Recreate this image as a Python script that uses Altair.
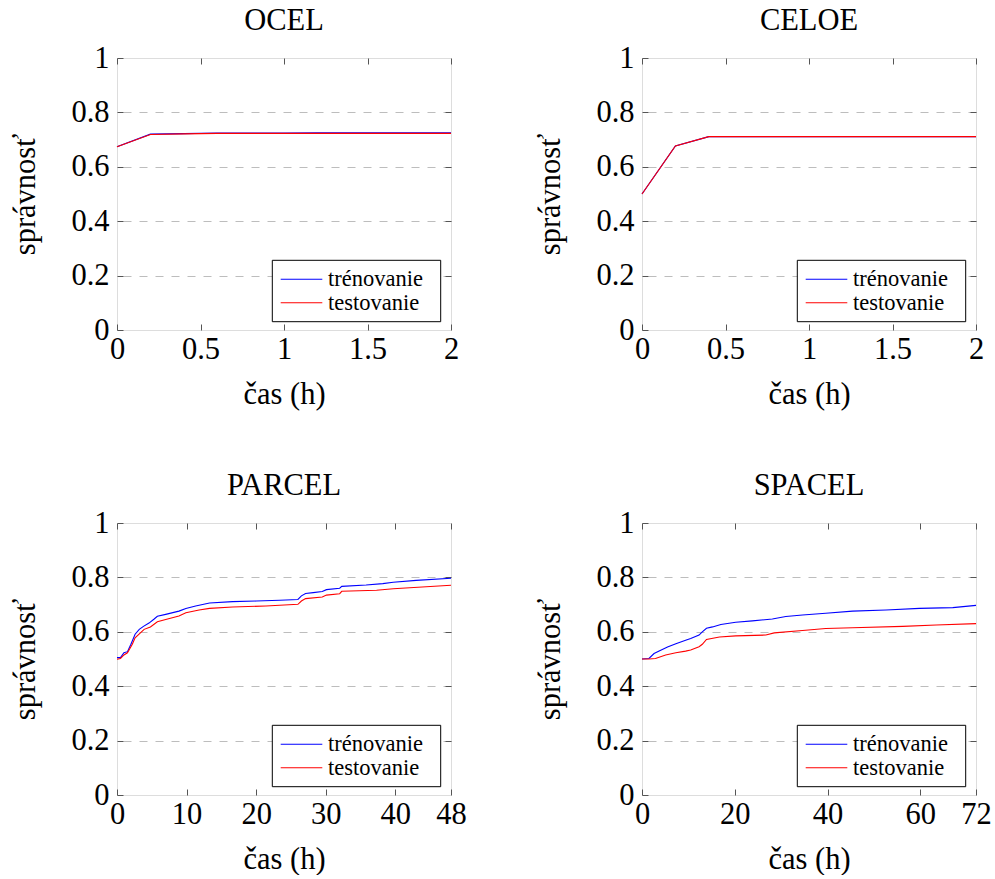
import altair as alt
import pandas as pd

# ---- data: accuracy (správnosť) over training time (hours) ----
SERIES = ["trénovanie", "testovanie"]
COLORS = ["#0000ff", "#ff0000"]

ocel_t = [0.0, 0.2, 0.4, 0.6, 0.8, 1.0, 1.2, 1.4, 1.6, 1.8, 2.0]
ocel_train = [0.674, 0.720, 0.722, 0.724, 0.724, 0.724, 0.725, 0.725, 0.725, 0.725, 0.725]
ocel_test = [0.674, 0.719, 0.721, 0.723, 0.723, 0.723, 0.723, 0.723, 0.723, 0.723, 0.723]

celoe_t = [0.0, 0.2, 0.4, 0.6, 0.8, 1.0, 1.2, 1.4, 1.6, 1.8, 2.0]
celoe_train = [0.500, 0.677, 0.711, 0.711, 0.711, 0.711, 0.711, 0.711, 0.711, 0.711, 0.711]
celoe_test = [0.500, 0.677, 0.711, 0.711, 0.711, 0.711, 0.711, 0.711, 0.711, 0.711, 0.711]

parcel_train_t = [0.0, 0.5, 1.0, 1.5, 2.0, 2.6, 3.2, 3.8, 4.6, 5.3, 5.8, 7.0, 8.9, 9.9,
                  11.3, 13.3, 16.6, 20.0, 23.4, 26.0, 26.5, 27.1, 28.2, 29.5, 30.1,
                  32.0, 32.3, 35.8, 38.2, 39.7, 43.0, 48.0]
parcel_train = [0.505, 0.505, 0.523, 0.527, 0.554, 0.591, 0.609, 0.620, 0.632, 0.646,
                0.657, 0.664, 0.676, 0.686, 0.695, 0.706, 0.711, 0.713, 0.716, 0.719,
                0.732, 0.741, 0.744, 0.748, 0.755, 0.760, 0.767, 0.772, 0.777, 0.782,
                0.789, 0.797]
parcel_test_t = [0.0, 0.5, 1.0, 1.5, 2.2, 2.6, 3.4, 3.9, 4.8, 5.8, 7.0, 8.9, 9.9, 11.8,
                 13.3, 16.6, 21.4, 26.0, 26.5, 27.1, 29.5, 30.1, 32.0, 32.3, 37.3,
                 39.7, 48.0]
parcel_test = [0.499, 0.502, 0.515, 0.523, 0.554, 0.578, 0.597, 0.609, 0.618, 0.637,
               0.645, 0.658, 0.670, 0.680, 0.686, 0.691, 0.695, 0.701, 0.713, 0.722,
               0.728, 0.735, 0.740, 0.749, 0.753, 0.758, 0.771]

spacel_train_t = [0.0, 1.5, 2.6, 3.7, 5.5, 7.3, 9.4, 10.5, 12.3, 13.0, 13.9, 15.2, 17.0,
                  20.2, 23.8, 28.1, 31.0, 34.6, 39.6, 45.4, 52.6, 59.8, 67.0, 72.0]
spacel_train = [0.500, 0.502, 0.520, 0.529, 0.544, 0.556, 0.569, 0.575, 0.588, 0.600,
                0.613, 0.618, 0.627, 0.635, 0.640, 0.647, 0.656, 0.662, 0.668, 0.676,
                0.680, 0.686, 0.689, 0.697]
spacel_test_t = [0.0, 1.5, 2.9, 5.1, 7.3, 9.4, 10.5, 12.3, 13.0, 13.9, 16.7, 20.2, 26.7,
                 28.5, 34.6, 39.6, 45.4, 56.2, 63.4, 72.0]
spacel_test = [0.500, 0.500, 0.502, 0.515, 0.523, 0.529, 0.533, 0.545, 0.554, 0.572,
               0.581, 0.585, 0.588, 0.596, 0.605, 0.612, 0.615, 0.620, 0.625, 0.630]

Y_TICKS = [0, 0.2, 0.4, 0.6, 0.8, 1]
GRID_TICKS = [0.2, 0.4, 0.6, 0.8]

FONT = "Liberation Serif"
FS = 30.5
W, H = 334, 272
TICK = 6

# legend box placement inside each plot area (pixels from the plot's top-left corner)
LEG_BOX = (155.3, 323.7, 202.3, 263.7)
LEG_LINE = (163.7, 205.3)
LEG_TEXT_X = 211
LEG_ROW_Y = 221.3
LEG_ROW_STEP = 23.4

color_scale = alt.Scale(domain=SERIES, range=COLORS)


def frame_of(train_t, train, test_t, test):
    rows = [(t, v, SERIES[0]) for t, v in zip(train_t, train)]
    rows += [(t, v, SERIES[1]) for t, v in zip(test_t, test)]
    return pd.DataFrame(rows, columns=["cas", "acc", "serie"])


def legend_layers():
    x0, x1, y0, y1 = LEG_BOX
    layers = [
        alt.Chart(pd.DataFrame({"k": [0]})).mark_rect(
            fill="white", stroke="black", strokeWidth=1).encode(
            x=alt.value(x0), x2=alt.value(x1), y=alt.value(y0), y2=alt.value(y1))
    ]
    for i, name in enumerate(SERIES):
        key = pd.DataFrame({"serie": [name]})
        ry = LEG_ROW_Y + i * LEG_ROW_STEP
        layers.append(alt.Chart(key).mark_rule(strokeWidth=1.1).encode(
            x=alt.value(LEG_LINE[0]), x2=alt.value(LEG_LINE[1]), y=alt.value(ry),
            color=alt.Color("serie:N", scale=color_scale, legend=None)))
        layers.append(alt.Chart(key).mark_text(
            align="left", baseline="middle", font=FONT, fontSize=22.5, color="black").encode(
            x=alt.value(LEG_TEXT_X), y=alt.value(ry), text="serie:N"))
    return layers


def panel(title, df, x_max, x_ticks):
    xs = alt.Scale(domain=[0, x_max], nice=False, zero=False)
    ys = alt.Scale(domain=[0, 1], nice=False)
    inner = dict(tickSize=TICK, offset=-TICK, domain=False, tickColor="#555555",
                 tickWidth=1, labelFlush=False, labelOverlap=False, labelBound=False,
                 minExtent=0)
    label_style = dict(labelFont=FONT, labelFontSize=FS, labelColor="black",
                       titleFont=FONT, titleFontSize=FS, titleColor="black",
                       titleFontWeight="normal")

    lines = alt.Chart(df).mark_line(strokeWidth=1.1).encode(
        x=alt.X("cas:Q", scale=xs, axis=alt.Axis(
            orient="bottom", values=x_ticks, format=".6~g", title="čas (h)", grid=False,
            labelPadding=4, titleBaseline="alphabetic", titleY=79, **inner, **label_style)),
        y=alt.Y("acc:Q", scale=ys, axis=alt.Axis(
            orient="left", values=Y_TICKS, format=".6~g", title="správnosť", grid=False,
            labelPadding=8, titleBaseline="alphabetic", titleX=-89, **inner, **label_style)),
        color=alt.Color("serie:N", scale=color_scale, legend=None),
    )

    box = alt.Chart(df).mark_point(opacity=0).encode(
        x=alt.X("cas:Q", scale=xs, axis=alt.Axis(
            orient="top", values=x_ticks, labels=False, title=None, grid=False, **inner)),
        y=alt.Y("acc:Q", scale=ys, axis=alt.Axis(
            orient="right", values=GRID_TICKS, labels=False, title=None, grid=True,
            gridDash=[8, 8], gridColor="#bdbdbd", gridWidth=1, **inner)),
    )

    return alt.layer(box, lines, *legend_layers()).resolve_axis(
        x="independent", y="independent").properties(
        width=W, height=H,
        title=alt.TitleParams(text=title, font=FONT, fontSize=FS, fontWeight="normal",
                              color="black", baseline="alphabetic", offset=-17,
                              anchor="middle"),
    )


p_ocel = panel("OCEL", frame_of(ocel_t, ocel_train, ocel_t, ocel_test), 2, [0, 0.5, 1, 1.5, 2])
p_celoe = panel("CELOE", frame_of(celoe_t, celoe_train, celoe_t, celoe_test), 2, [0, 0.5, 1, 1.5, 2])
p_parcel = panel("PARCEL", frame_of(parcel_train_t, parcel_train, parcel_test_t, parcel_test),
                 48, [0, 10, 20, 30, 40, 48])
p_spacel = panel("SPACEL", frame_of(spacel_train_t, spacel_train, spacel_test_t, spacel_test),
                 72, [0, 20, 40, 60, 72])

chart = alt.concat(
    p_ocel, p_celoe, p_parcel, p_spacel,
    columns=2, spacing={"row": 193, "column": 191}, bounds="flush",
).resolve_scale(x="independent", y="independent").properties(
    padding={"left": 9, "top": 5, "right": 0, "bottom": 0}
).configure_view(stroke="black", strokeWidth=1).configure(background="white")

chart.save("out.html", embed_options={"renderer": "svg", "actions": False})
